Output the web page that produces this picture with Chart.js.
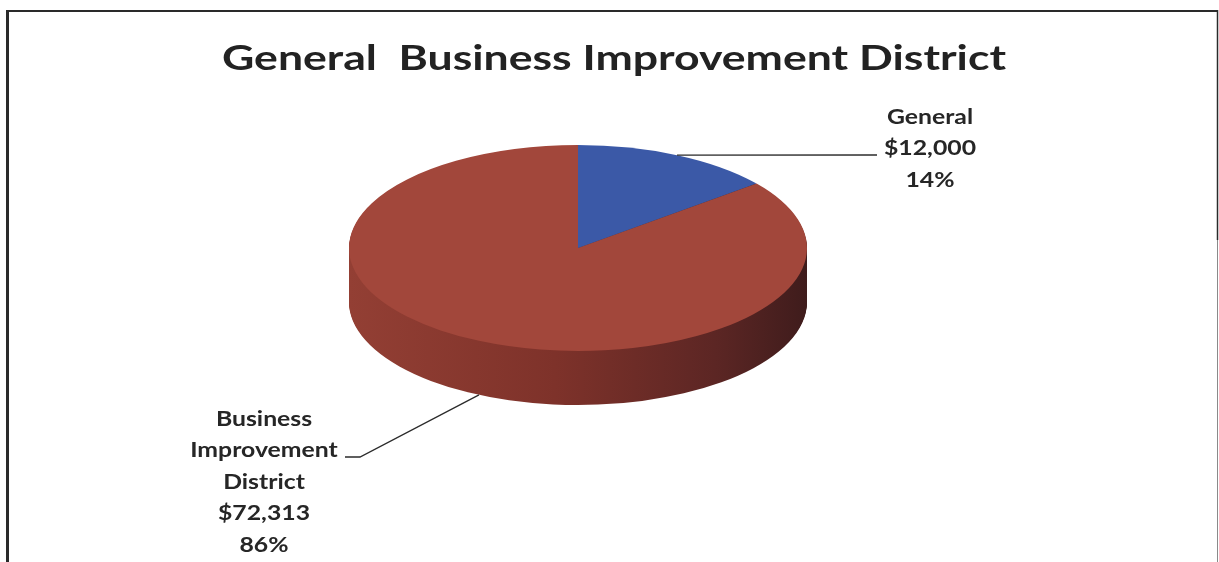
<!DOCTYPE html>
<html>
<head>
<meta charset="utf-8">
<title>General Business Improvement District</title>
<script src="https://cdn.jsdelivr.net/npm/chart.js@4.4.1/dist/chart.umd.min.js"></script>
<style>
    html, body { margin: 0; padding: 0; background: #fff; }
    #wrap { position: relative; width: 1219px; height: 562px; }
    canvas { display: block; }
</style>
</head>
<body>
<div id="wrap"><canvas id="fundPie" width="1219" height="562"></canvas></div>
<script>
// Revenue split
const categories = ['General', 'Business Improvement District'];
const amounts = [12000, 72313];
const labelLines = [['General'], ['Business', 'Improvement', 'District']];
const chartTitle = 'General  Business Improvement District';

// Slice colours: top face, then the side wall (left -> right shading)
const topColors = ['#3b59a7', '#a2473b'];
const sideStops = [
    [[0, '#2f4a8c'], [0.5, '#263d74'], [1, '#182748']],
    [[0, '#933f34'], [0.45, '#7e322a'], [0.8, '#5c2624'], [1, '#3f1c1c']]
];

// Where the tilted pie sits on the page
const PIE = { x: 578, y: 248, rx: 229, ry: 103, depth: 54 };
const TITLE = { x: 614, y: 59, width: 784, font: 'bold 35px Lato' };
const LABEL_FONT = 'bold 21px Lato';
const LABEL_STRETCH = 1.18;
const LINE_H = 31.5;
const labelSpots = [
    { x: 930, y: 117, path: [[877, 155]] },
    { x: 264, y: 419, path: [[360, 457], [345, 457]] }
];

const total = amounts.reduce((a, b) => a + b, 0);

// map the flat circle chart.js lays out onto the tilted ellipse
function tiltTo(ctx, arc, dy) {
    const r = arc.outerRadius;
    ctx.translate(PIE.x, PIE.y + dy);
    ctx.scale(PIE.rx / r, PIE.ry / r);
    ctx.translate(-arc.x, -arc.y);
}

// centred text, widened horizontally by sx
function wideText(ctx, text, x, y, sx) {
    ctx.save();
    ctx.translate(x, y);
    ctx.scale(sx, 1);
    ctx.fillText(text, 0, 0);
    ctx.restore();
}

const framePlugin = {
    id: 'frame',
    beforeDraw(chart) {
        const ctx = chart.ctx;
        ctx.save();
        ctx.strokeStyle = '#2a2a2a';
        ctx.lineWidth = 2;
        ctx.beginPath();
        ctx.moveTo(6, 11); ctx.lineTo(1218, 11);
        ctx.stroke();
        ctx.lineWidth = 3;
        ctx.beginPath();
        ctx.moveTo(7.5, 10); ctx.lineTo(7.5, 562);
        ctx.stroke();
        ctx.lineWidth = 1.5;
        ctx.beginPath();
        ctx.moveTo(1217.5, 10); ctx.lineTo(1217.5, 240);
        ctx.stroke();
        ctx.strokeStyle = '#8a8a8a';
        ctx.lineWidth = 1;
        ctx.beginPath();
        ctx.moveTo(1217.5, 240); ctx.lineTo(1217.5, 562);
        ctx.stroke();
        ctx.restore();
    }
};

const tiltPlugin = {
    id: 'tilt',
    // side wall: the slices stacked downwards, the top face covers all but the rim
    beforeDatasetsDraw(chart) {
        const ctx = chart.ctx;
        const arcs = chart.getDatasetMeta(0).data;
        for (let d = PIE.depth; d > 0; d--) {
            arcs.forEach((arc, i) => {
                const { x, y, startAngle, endAngle, outerRadius } = arc;
                ctx.save();
                tiltTo(ctx, arc, d);
                const g = ctx.createLinearGradient(x - outerRadius, 0, x + outerRadius, 0);
                sideStops[i].forEach(s => g.addColorStop(s[0], s[1]));
                ctx.fillStyle = g;
                ctx.beginPath();
                ctx.moveTo(x, y);
                ctx.arc(x, y, outerRadius, startAngle, endAngle);
                ctx.closePath();
                ctx.fill();
                ctx.restore();
            });
        }
    },
    beforeDatasetDraw(chart, args) {
        const arc = args.meta.data[0];
        chart.ctx.save();
        tiltTo(chart.ctx, arc, 0);
    },
    afterDatasetDraw(chart) {
        chart.ctx.restore();
    },
    // title, then callouts with leader lines
    afterDraw(chart) {
        const ctx = chart.ctx;
        const arcs = chart.getDatasetMeta(0).data;
        ctx.save();
        ctx.fillStyle = '#222';
        ctx.textAlign = 'center';
        ctx.textBaseline = 'middle';
        ctx.font = TITLE.font;
        wideText(ctx, chartTitle, TITLE.x, TITLE.y, TITLE.width / ctx.measureText(chartTitle).width);

        arcs.forEach((arc, i) => {
            const mid = (arc.startAngle + arc.endAngle) / 2;
            const px = PIE.x + PIE.rx * Math.cos(mid);
            let py = PIE.y + PIE.ry * Math.sin(mid);
            if (Math.sin(mid) > 0) py += PIE.depth;
            const spot = labelSpots[i];

            ctx.strokeStyle = '#2b2b2b';
            ctx.lineWidth = 1.3;
            ctx.beginPath();
            ctx.moveTo(px, py);
            spot.path.forEach(p => ctx.lineTo(p[0], p[1]));
            ctx.stroke();

            const lines = labelLines[i].concat([
                '$' + amounts[i].toLocaleString('en-US'),
                Math.round(amounts[i] / total * 100) + '%'
            ]);
            ctx.fillStyle = '#262626';
            ctx.font = LABEL_FONT;
            lines.forEach((t, k) => wideText(ctx, t, spot.x, spot.y + k * LINE_H, LABEL_STRETCH));
        });
        ctx.restore();
    }
};

const ctx = document.getElementById('fundPie').getContext('2d');
new Chart(ctx, {
    type: 'pie',
    data: {
        labels: categories,
        datasets: [{
            data: amounts,
            backgroundColor: topColors,
            borderWidth: 0,
            hoverOffset: 0,
            clip: false
        }]
    },
    options: {
        responsive: false,
        animation: false,
        events: [],
        layout: { padding: { top: 90 } },
        plugins: {
            legend: { display: false },
            tooltip: { enabled: false },
            title: { display: false }
        }
    },
    plugins: [framePlugin, tiltPlugin]
});
</script>
</body>
</html>
